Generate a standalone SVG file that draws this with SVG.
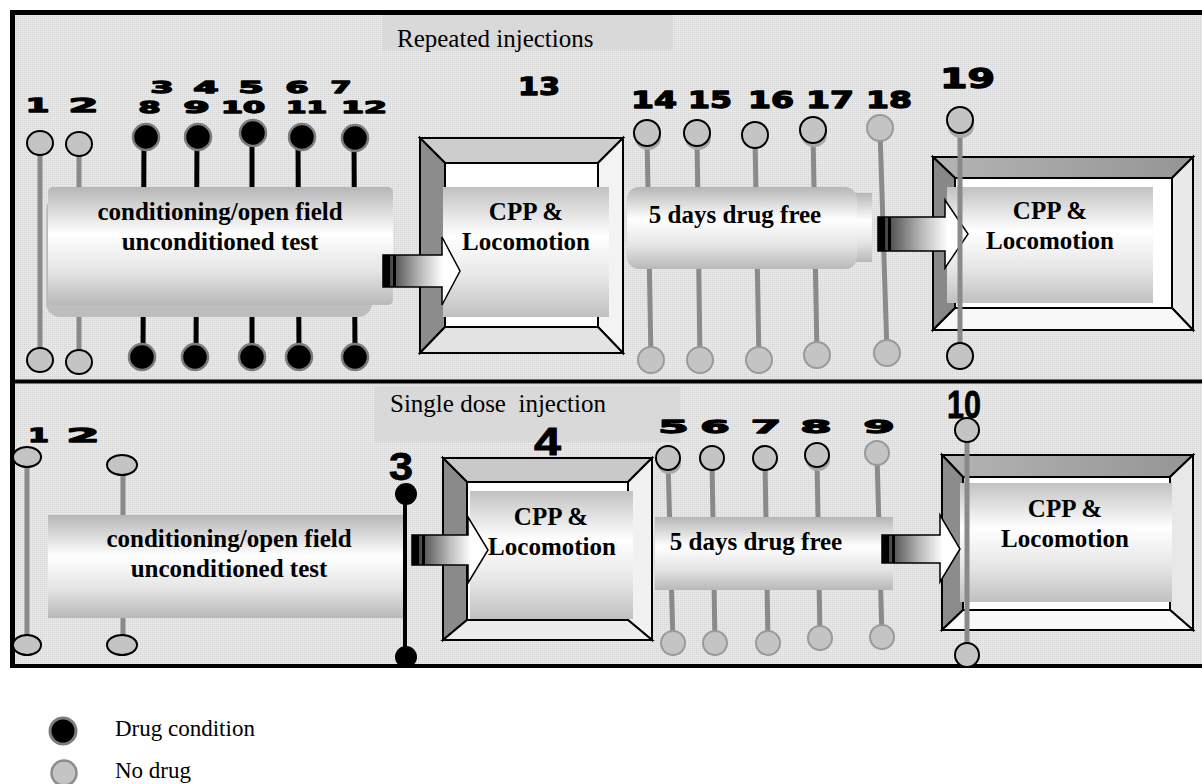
<svg xmlns="http://www.w3.org/2000/svg" width="1202" height="784" viewBox="0 0 1202 784">
<defs>
<pattern id="dots" width="2" height="2" patternUnits="userSpaceOnUse">
<rect width="2" height="2" fill="#e7e7e7"/>
<rect width="1" height="1" fill="#d3d3d3"/>
</pattern>
<linearGradient id="cyl" x1="0" y1="0" x2="0" y2="1">
<stop offset="0" stop-color="#b6b6b6"/>
<stop offset="0.4" stop-color="#ffffff"/>
<stop offset="0.72" stop-color="#e4e4e4"/>
<stop offset="1" stop-color="#b8b8b8"/>
</linearGradient>
<linearGradient id="pnl" x1="0" y1="0" x2="0" y2="1">
<stop offset="0" stop-color="#c2c2c2"/>
<stop offset="0.38" stop-color="#ffffff"/>
<stop offset="0.7" stop-color="#e6e6e6"/>
<stop offset="1" stop-color="#c0c0c0"/>
</linearGradient>
<linearGradient id="arr" x1="0" y1="0" x2="1" y2="0">
<stop offset="0" stop-color="#2a2a2a"/>
<stop offset="0.5" stop-color="#bdbdbd"/>
<stop offset="0.78" stop-color="#ffffff"/>
<stop offset="1" stop-color="#ffffff"/>
</linearGradient>
<linearGradient id="topdark" x1="0" y1="0" x2="1" y2="0">
<stop offset="0" stop-color="#b4b4b4"/>
<stop offset="1" stop-color="#959595"/>
</linearGradient>
<style>
.stem-g{stroke:#8a8a8a;stroke-width:5;fill:none}
.stem-b{stroke:#000;stroke-width:5;fill:none}
.c-g{fill:#c4c4c4;stroke:#000;stroke-width:2}
.c-gg{fill:#c4c4c4;stroke:#9a9a9a;stroke-width:2}
.c-b{fill:#000;stroke:#7c7c7c;stroke-width:2.5}
.shd{fill:#a8a8a8}
.num{font-family:"DejaVu Sans",sans-serif;font-weight:bold;text-anchor:middle;fill:#000;stroke:#000;stroke-width:1.3;stroke-linejoin:round}
.numc{font-family:"Liberation Sans",Arial,sans-serif;font-weight:bold;text-anchor:middle;fill:#000;stroke:#000;stroke-width:0.8}
.lbl{font-family:"Liberation Serif","Times New Roman",serif;font-size:25px;font-weight:bold;text-anchor:middle;fill:#000}
.ttl{font-family:"Liberation Serif","Times New Roman",serif;font-size:25px;fill:#000}
.leg{font-family:"Liberation Serif","Times New Roman",serif;font-size:23px;fill:#000}
.bv{stroke:#000;stroke-width:2;stroke-linejoin:miter}
.ttlbox{fill:#d9d9d9}
.arrow{fill:url(#arr);stroke:#000;stroke-width:1.5;stroke-linejoin:miter}
</style>
</defs>

<!-- frame / panels -->
<g id="frame">
<rect x="10" y="10" width="1200" height="658" fill="url(#dots)"/>
<line x1="10" y1="12.5" x2="1202" y2="12.5" stroke="#000" stroke-width="5"/>
<line x1="12.5" y1="10" x2="12.5" y2="668" stroke="#000" stroke-width="5"/>
<line x1="10" y1="381.5" x2="1202" y2="381.5" stroke="#000" stroke-width="4"/>
<line x1="10" y1="666" x2="1202" y2="666" stroke="#000" stroke-width="4"/>
</g>

<g id="title-repeated">
<rect class="ttlbox" x="382" y="15" width="291" height="35"/>
<text class="ttl" x="397" y="47">Repeated injections</text>
</g>
<g id="title-single">
<rect class="ttlbox" x="375" y="386" width="305" height="56"/>
<text class="ttl" x="390" y="412" xml:space="preserve">Single dose  injection</text>
</g>

<!-- top panel injections (behind) -->
<g id="inj-r1">
<line class="stem-g" x1="40" y1="143" x2="40" y2="360"/>
<ellipse class="c-g" cx="40" cy="143" rx="13" ry="12"/>
<ellipse class="c-g" cx="40" cy="360" rx="13" ry="12"/>
<text class="num" x="37.5" y="112" font-size="20" textLength="24" lengthAdjust="spacingAndGlyphs">1</text>
</g>
<g id="inj-r2">
<line class="stem-g" x1="79" y1="144" x2="79" y2="362"/>
<ellipse class="c-g" cx="79" cy="144" rx="13" ry="12"/>
<ellipse class="c-g" cx="79" cy="362" rx="13" ry="12"/>
<text class="num" x="83.5" y="112" font-size="20" textLength="30" lengthAdjust="spacingAndGlyphs">2</text>
</g>
<g id="inj-r3-8">
<line class="stem-b" x1="144" y1="137" x2="143" y2="357"/>
<circle class="c-b" cx="146" cy="137" r="13"/>
<circle class="c-b" cx="142" cy="357" r="13"/>
<text class="num" x="162" y="93" font-size="16" textLength="23" lengthAdjust="spacingAndGlyphs">3</text>
<text class="num" x="149.5" y="113" font-size="16" textLength="22" lengthAdjust="spacingAndGlyphs">8</text>
</g>
<g id="inj-r4-9">
<line class="stem-b" x1="197" y1="137" x2="196" y2="357"/>
<circle class="c-b" cx="198" cy="137" r="13"/>
<circle class="c-b" cx="195" cy="357" r="13"/>
<text class="num" x="206" y="93" font-size="16" textLength="25" lengthAdjust="spacingAndGlyphs">4</text>
<text class="num" x="196.5" y="113" font-size="16" textLength="26" lengthAdjust="spacingAndGlyphs">9</text>
</g>
<g id="inj-r5-10">
<line class="stem-b" x1="252" y1="133" x2="252" y2="357"/>
<circle class="c-b" cx="253" cy="133" r="13"/>
<circle class="c-b" cx="252" cy="357" r="13"/>
<text class="num" x="251" y="93" font-size="16" textLength="25" lengthAdjust="spacingAndGlyphs">5</text>
<text class="num" x="243" y="113" font-size="16" textLength="44" lengthAdjust="spacingAndGlyphs">10</text>
</g>
<g id="inj-r6-11">
<line class="stem-b" x1="298" y1="137" x2="299" y2="357"/>
<circle class="c-b" cx="302" cy="137" r="13"/>
<circle class="c-b" cx="299" cy="357" r="13"/>
<text class="num" x="297" y="93" font-size="16" textLength="23" lengthAdjust="spacingAndGlyphs">6</text>
<text class="num" x="306.5" y="113" font-size="16" textLength="41" lengthAdjust="spacingAndGlyphs">11</text>
</g>
<g id="inj-r7-12">
<line class="stem-b" x1="354" y1="138" x2="355" y2="357"/>
<circle class="c-b" cx="355" cy="138" r="13"/>
<circle class="c-b" cx="355" cy="357" r="13"/>
<text class="num" x="341" y="93" font-size="16" textLength="21" lengthAdjust="spacingAndGlyphs">7</text>
<text class="num" x="364" y="113" font-size="16" textLength="46" lengthAdjust="spacingAndGlyphs">12</text>
</g>
<g id="inj-r14">
<line class="stem-g" x1="647" y1="135" x2="651" y2="360"/>
<ellipse class="shd" cx="648" cy="138" rx="13" ry="12"/>
<circle class="c-g" cx="647" cy="133" r="13"/>
<circle class="c-gg" cx="651" cy="360" r="13"/>
<text class="num" x="654" y="108" font-size="23" textLength="46" lengthAdjust="spacingAndGlyphs">14</text>
</g>
<g id="inj-r15">
<line class="stem-g" x1="697" y1="135" x2="700" y2="360"/>
<ellipse class="shd" cx="698" cy="138" rx="13" ry="12"/>
<circle class="c-g" cx="697" cy="133" r="13"/>
<circle class="c-gg" cx="700" cy="360" r="13"/>
<text class="num" x="710" y="108" font-size="23" textLength="44" lengthAdjust="spacingAndGlyphs">15</text>
</g>
<g id="inj-r16">
<line class="stem-g" x1="755" y1="137" x2="759" y2="360"/>
<circle class="c-g" cx="755" cy="135" r="13"/>
<circle class="c-gg" cx="759" cy="360" r="13"/>
<text class="num" x="771" y="108" font-size="23" textLength="46" lengthAdjust="spacingAndGlyphs">16</text>
</g>
<g id="inj-r17">
<line class="stem-g" x1="813" y1="132" x2="817" y2="355"/>
<ellipse class="shd" cx="814" cy="135" rx="13" ry="12"/>
<circle class="c-g" cx="813" cy="130" r="13"/>
<circle class="c-gg" cx="817" cy="355" r="13"/>
<text class="num" x="830" y="108" font-size="23" textLength="48" lengthAdjust="spacingAndGlyphs">17</text>
</g>
<g id="inj-r18">
<line class="stem-g" x1="880" y1="130" x2="887" y2="353"/>
<circle class="c-gg" cx="880" cy="128" r="13"/>
<circle class="c-gg" cx="887" cy="353" r="13"/>
<text class="num" x="889" y="108" font-size="23" textLength="46" lengthAdjust="spacingAndGlyphs">18</text>
</g>

<!-- top panel nodes -->
<g id="node-conditioning-repeated">
<rect x="46" y="196" width="326" height="121" rx="14" fill="#bdbdbd"/>
<rect x="48" y="187" width="345" height="118" rx="5" fill="url(#cyl)"/>
<text class="lbl" x="220" y="220">conditioning/open field</text>
<text class="lbl" x="220" y="250">unconditioned test</text>
</g>
<g id="node-cpp-13">
<polygon class="bv" points="420,138 623,138 598,163 445,163" fill="#cdcdcd"/>
<polygon class="bv" points="420,138 445,163 445,327 420,353" fill="#8c8c8c"/>
<polygon class="bv" points="623,138 623,353 598,327 598,163" fill="#f3f3f3"/>
<polygon class="bv" points="420,353 445,327 598,327 623,353" fill="#e3e3e3"/>
<rect class="bv" x="445" y="163" width="153" height="164" fill="#fff"/>
<rect x="443" y="187" width="166" height="130" fill="url(#pnl)"/>
<text class="lbl" x="526" y="220">CPP &amp;</text>
<text class="lbl" x="526" y="250">Locomotion</text>
</g>
<g id="node-drugfree-repeated">
<rect x="850" y="193" width="22" height="69" fill="url(#cyl)"/>
<rect x="627" y="187" width="230" height="82" rx="12" fill="url(#cyl)"/>
<text class="lbl" x="735" y="223">5 days drug free</text>
</g>
<g id="node-cpp-19">
<polygon class="bv" points="933,157 1193,157 1172,178 955,178" fill="url(#topdark)"/>
<polygon class="bv" points="933,157 955,178 955,308 933,330" fill="#888"/>
<polygon class="bv" points="1193,157 1193,330 1172,308 1172,178" fill="#e9e9e9"/>
<polygon class="bv" points="933,330 955,308 1172,308 1193,330" fill="#f8f8f8"/>
<rect class="bv" x="955" y="178" width="217" height="130" fill="#fff"/>
<rect x="947" y="187" width="206" height="116" fill="url(#pnl)"/>
<text class="lbl" x="1050" y="219">CPP &amp;</text>
<text class="lbl" x="1050" y="249">Locomotion</text>
</g>

<!-- bottom panel injections (behind) -->
<g id="inj-s1">
<line class="stem-g" x1="27" y1="457" x2="27" y2="645"/>
<ellipse class="c-g" cx="27" cy="457" rx="14" ry="10"/>
<ellipse class="c-g" cx="27" cy="645" rx="14" ry="10"/>
<text class="num" x="38.5" y="442" font-size="19" textLength="21" lengthAdjust="spacingAndGlyphs">1</text>
</g>
<g id="inj-s2">
<line class="stem-g" x1="123" y1="465" x2="123" y2="645"/>
<ellipse class="c-g" cx="122" cy="465" rx="15" ry="10"/>
<ellipse class="c-g" cx="122" cy="645" rx="15" ry="10"/>
<text class="num" x="83" y="442" font-size="19" textLength="33" lengthAdjust="spacingAndGlyphs">2</text>
</g>
<g id="inj-s5">
<line class="stem-g" x1="668" y1="460" x2="673" y2="643"/>
<ellipse class="shd" cx="669" cy="463" rx="12" ry="11"/>
<circle class="c-g" cx="668" cy="458" r="12"/>
<circle class="c-gg" cx="673" cy="643" r="12"/>
<text class="num" x="673.5" y="433" font-size="18" textLength="30" lengthAdjust="spacingAndGlyphs">5</text>
</g>
<g id="inj-s6">
<line class="stem-g" x1="712" y1="460" x2="715" y2="643"/>
<circle class="c-g" cx="712" cy="458" r="12"/>
<circle class="c-gg" cx="715" cy="643" r="12"/>
<text class="num" x="715" y="433" font-size="18" textLength="29" lengthAdjust="spacingAndGlyphs">6</text>
</g>
<g id="inj-s7">
<line class="stem-g" x1="765" y1="460" x2="768" y2="643"/>
<circle class="c-g" cx="765" cy="458" r="12"/>
<circle class="c-gg" cx="768" cy="643" r="12"/>
<text class="num" x="766" y="433" font-size="18" textLength="30" lengthAdjust="spacingAndGlyphs">7</text>
</g>
<g id="inj-s8">
<line class="stem-g" x1="817" y1="457" x2="820" y2="638"/>
<ellipse class="shd" cx="818" cy="460" rx="12" ry="11"/>
<circle class="c-g" cx="817" cy="455" r="12"/>
<circle class="c-gg" cx="820" cy="638" r="12"/>
<text class="num" x="816" y="433" font-size="18" textLength="31" lengthAdjust="spacingAndGlyphs">8</text>
</g>
<g id="inj-s9">
<line class="stem-g" x1="877" y1="455" x2="882" y2="637"/>
<circle class="c-gg" cx="877" cy="453" r="12"/>
<circle class="c-gg" cx="882" cy="637" r="12"/>
<text class="num" x="879" y="433" font-size="18" textLength="31" lengthAdjust="spacingAndGlyphs">9</text>
</g>

<!-- bottom panel nodes -->
<g id="node-conditioning-single">
<rect x="48" y="515" width="355" height="103" fill="url(#cyl)"/>
<text class="lbl" x="229" y="547">conditioning/open field</text>
<text class="lbl" x="229" y="577">unconditioned test</text>
</g>
<g id="node-cpp-4">
<polygon class="bv" points="443,458 652,458 628,482 467,482" fill="#c9c9c9"/>
<polygon class="bv" points="443,458 467,482 467,620 443,640" fill="#8a8a8a"/>
<polygon class="bv" points="652,458 652,640 628,620 628,482" fill="#f1f1f1"/>
<polygon class="bv" points="443,640 467,620 628,620 652,640" fill="#ececec"/>
<rect class="bv" x="467" y="482" width="161" height="138" fill="#fff"/>
<rect x="470" y="491" width="163" height="128" fill="url(#pnl)"/>
<text class="lbl" x="551" y="525">CPP &amp;</text>
<text class="lbl" x="552" y="555">Locomotion</text>
</g>
<g id="node-drugfree-single">
<rect x="655" y="517" width="238" height="73" fill="url(#cyl)"/>
<text class="lbl" x="756" y="550">5 days drug free</text>
</g>
<g id="node-cpp-10">
<polygon class="bv" points="942,455 1193,455 1170,477 963,477" fill="url(#topdark)"/>
<polygon class="bv" points="942,455 963,477 963,610 942,630" fill="#8c8c8c"/>
<polygon class="bv" points="1193,455 1193,630 1170,610 1170,477" fill="#e8e8e8"/>
<polygon class="bv" points="942,630 963,610 1170,610 1193,630" fill="#f8f8f8"/>
<rect class="bv" x="963" y="477" width="207" height="133" fill="#fff"/>
<rect x="960" y="483" width="212" height="119" fill="url(#pnl)"/>
<text class="lbl" x="1065" y="517">CPP &amp;</text>
<text class="lbl" x="1065" y="547">Locomotion</text>
</g>

<!-- connectors -->
<g id="connectors">
<path class="arrow" d="M383,255 H442 V237 L460,271 L442,305 V287 H383 Z"/>
<rect x="383" y="255" width="7" height="32" fill="#000"/>
<rect x="393" y="255" width="3" height="32" fill="#000"/>
<path class="arrow" d="M878,217 H945 V200 L968,234 L945,268 V251 H878 Z"/>
<rect x="878" y="217" width="7" height="34" fill="#000"/>
<rect x="888" y="217" width="3" height="34" fill="#000"/>
<path class="arrow" d="M412,535 H468 V517 L488,550 L468,583 V565 H412 Z"/>
<rect x="412" y="535" width="7" height="30" fill="#000"/>
<rect x="422" y="535" width="3" height="30" fill="#000"/>
<path class="arrow" d="M882,535 H940 V515 L960,549 L940,582 V563 H882 Z"/>
<rect x="882" y="535" width="7" height="28" fill="#000"/>
<rect x="892" y="535" width="3" height="28" fill="#000"/>
</g>

<!-- injections in front -->
<g id="inj-r19">
<line class="stem-g" x1="960" y1="125" x2="960" y2="352"/>
<ellipse class="shd" cx="961" cy="126" rx="13" ry="12"/>
<circle class="c-g" cx="960" cy="120" r="13"/>
<circle class="c-g" cx="960" cy="356" r="13"/>
<text class="num" x="967.5" y="88" font-size="27" textLength="55" lengthAdjust="spacingAndGlyphs">19</text>
</g>
<g id="inj-s3">
<line x1="405" y1="494" x2="405" y2="657" stroke="#000" stroke-width="4"/>
<circle cx="406" cy="494" r="11" fill="#000"/>
<circle cx="406" cy="657" r="11" fill="#000"/>
<text class="numc" x="401" y="480" font-size="39" textLength="24" lengthAdjust="spacingAndGlyphs">3</text>
</g>
<g id="inj-s4-label">
<text class="numc" x="547.5" y="455" font-size="38" textLength="27" lengthAdjust="spacingAndGlyphs">4</text>
</g>
<g id="inj-s10">
<line class="stem-g" x1="967" y1="432" x2="967" y2="653"/>
<circle class="c-g" cx="967" cy="430" r="12"/>
<circle class="c-g" cx="967" cy="655" r="12"/>
<text class="numc" x="964" y="418" font-size="39" textLength="34" lengthAdjust="spacingAndGlyphs">10</text>
</g>
<g id="inj-r13-label">
<text class="num" x="539" y="95" font-size="24" textLength="42" lengthAdjust="spacingAndGlyphs">13</text>
</g>

<!-- legend -->
<g id="legend">
<circle cx="63" cy="731" r="13" fill="#000" stroke="#7c7c7c" stroke-width="3"/>
<text class="leg" x="115" y="736">Drug condition</text>
<circle cx="64" cy="773" r="12.5" fill="#c4c4c4" stroke="#8c8c8c" stroke-width="2.5"/>
<text class="leg" x="115" y="778">No drug</text>
</g>
</svg>
